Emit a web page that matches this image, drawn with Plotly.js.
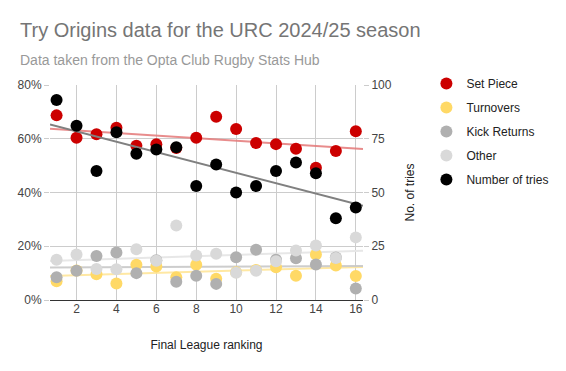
<!DOCTYPE html>
<html>
<head>
<meta charset="utf-8">
<script src="https://cdn.plot.ly/plotly-3.0.1.min.js"></script>
<style>html,body{margin:0;padding:0;background:#fff;}#chart{width:566px;height:371px;}</style>
</head>
<body>
<div id="chart"></div>
<script>
// Final league ranking (x)
const ranking = [1,2,3,4,5,6,7,8,9,10,11,12,13,14,15,16];
// Share of tries by origin (%)
const setPiece   = [68.7,60.4,61.7,64.1,57.4,58.0,56.6,60.4,68.2,63.6,58.4,58.0,56.3,49.2,55.4,62.8];
const turnovers  = [7.0,11.0,9.6,6.1,13.1,12.5,8.5,13.1,7.9,10.3,11.2,12.2,9.0,16.9,12.8,8.9];
const kickReturns= [8.5,10.9,16.4,17.7,10.0,14.8,6.8,9.0,6.0,15.9,18.7,15.0,15.5,13.2,15.8,4.3];
const other      = [15.0,16.9,11.5,11.4,18.9,14.6,27.7,16.6,17.2,10.1,10.9,14.4,18.4,20.3,15.6,23.3];
// Number of tries (right axis)
const tries      = [93,81,60,78,68,70,71,53,63,50,53,60,64,59,38,43];

const xRange = [0.67, 16.36];

function linFit(xs, ys) {
  const n = xs.length;
  let sx=0, sy=0, sxx=0, sxy=0;
  for (let i=0;i<n;i++){ sx+=xs[i]; sy+=ys[i]; sxx+=xs[i]*xs[i]; sxy+=xs[i]*ys[i]; }
  const b = (n*sxy - sx*sy)/(n*sxx - sx*sx);
  const a = (sy - b*sx)/n;
  return {x: xRange.slice(), y: xRange.map(v => a + b*v)};
}

const series = [
  {name:'Set Piece', y:setPiece, color:'#cc0000', trend:'rgba(228,120,120,0.85)', yaxis:'y'},
  {name:'Turnovers', y:turnovers, color:'#ffd966', trend:'rgba(255,229,153,0.9)', yaxis:'y'},
  {name:'Kick Returns', y:kickReturns, color:'#b0b0b0', trend:'rgba(200,200,200,0.9)', yaxis:'y'},
  {name:'Other', y:other, color:'#d9d9d9', trend:'rgba(230,230,230,0.95)', yaxis:'y'},
  {name:'Number of tries', y:tries, color:'#000000', trend:'rgba(128,128,128,1)', yaxis:'y2'}
];

const traces = [];
series.forEach(s => {
  const f = linFit(ranking, s.y);
  traces.push({x:f.x, y:f.y, type:'scatter', mode:'lines', yaxis:s.yaxis,
    line:{color:s.trend, width:2}, showlegend:false, hoverinfo:'skip'});
});
series.forEach((s,i) => {
  traces.push({x:ranking, y:s.y, type:'scatter', mode:'markers', name:s.name, yaxis:s.yaxis,
    legendgroup:'g'+i, marker:{color:s.color, size:12, line:{width:0}}});
});

const font = {family:'"Liberation Sans", Arial, sans-serif', color:'#444', size:12};
const px = p => (p-50)/316;
const py = p => (300-p)/215;

const layout = {
  width:566, height:371,
  margin:{l:50, r:200, t:85, b:71},
  paper_bgcolor:'#fff', plot_bgcolor:'#fff',
  font: font,
  showlegend:true,
  legend:{x:px(430), xanchor:'left', y:py(69), yanchor:'top', tracegroupgap:5,
    font:{family:font.family, size:12, color:'#222'}, itemsizing:'constant', bgcolor:'rgba(0,0,0,0)'},
  xaxis:{range:xRange, tick0:0, dtick:2, showgrid:true, gridcolor:'#cccccc', gridwidth:1,
    zeroline:false, showline:false, ticks:'', tickfont:{size:12, color:'#444'},
    title:{text:'Final League ranking', font:{size:12, color:'#222'}, standoff:25}},
  yaxis:{range:[0,80], dtick:20, ticksuffix:'%', showgrid:true, gridcolor:'#cccccc',
    zeroline:true, zerolinecolor:'#333', zerolinewidth:1, showline:false,
    ticks:'outside', ticklen:5, tickcolor:'#cccccc', tickfont:{size:12, color:'#444'}},
  yaxis2:{range:[0,100], dtick:25, overlaying:'y', side:'right', showgrid:false,
    zeroline:false, showline:false, ticks:'outside', ticklen:5, tickcolor:'#cccccc',
    tickfont:{size:12, color:'#444'},
    title:{text:'No. of tries', font:{size:12, color:'#222'}, standoff:14}},
  annotations:[
    {text:'Try Origins data for the URC 2024/25 season', xref:'paper', yref:'paper',
     x:px(18), y:py(30), xanchor:'left', yanchor:'middle', showarrow:false,
     font:{family:font.family, size:20, color:'#757575'}},
    {text:'Data taken from the Opta Club Rugby Stats Hub', xref:'paper', yref:'paper',
     x:px(18), y:py(60), xanchor:'left', yanchor:'middle', showarrow:false,
     font:{family:font.family, size:14, color:'#999999'}}
  ]
};

Plotly.newPlot('chart', traces, layout, {displayModeBar:false, staticPlot:true});
</script>
</body>
</html>
